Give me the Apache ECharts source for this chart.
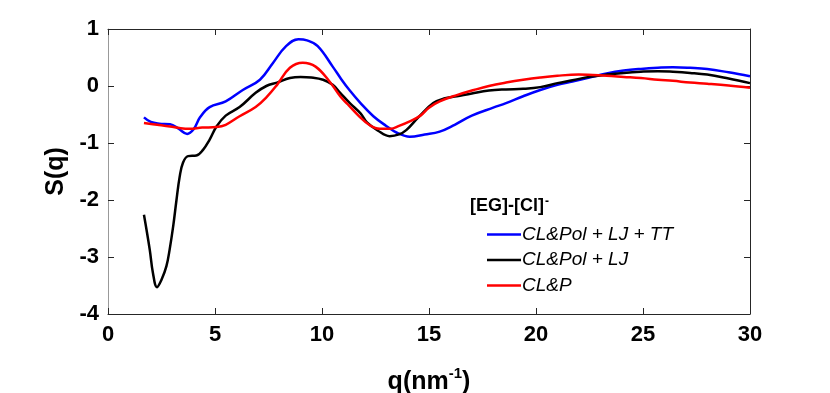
<!DOCTYPE html>
<html>
<head>
    <meta charset="UTF-8">
    <title>S(q)</title>
    <script src="https://cdn.jsdelivr.net/npm/echarts@6.0.0/dist/echarts.min.js"></script>
    <style>
        html, body { margin: 0; padding: 0; background: #fff; }
        #chart { width: 830px; height: 393px; }
    </style>
</head>
<body>
    <div id="chart"></div>
    <script>
        // 数据 [q, S(q)]
        var blueData = [[1.68,-0.55],[2.0,-0.63],[2.4,-0.66],[2.9,-0.67],[3.3,-0.75],[3.7,-0.84],[4.0,-0.76],[4.3,-0.55],[4.75,-0.37],[5.5,-0.27],[6.3,-0.07],[7.1,0.11],[7.7,0.40],[8.3,0.69],[8.9,0.82],[9.3,0.80],[9.8,0.70],[10.5,0.34],[10.9,0.12],[11.3,-0.08],[11.8,-0.30],[12.4,-0.53],[13.0,-0.70],[13.5,-0.82],[14.1,-0.89],[14.8,-0.85],[15.5,-0.80],[16.2,-0.68],[17.0,-0.52],[18.0,-0.38],[18.6,-0.30],[19.4,-0.18],[20.2,-0.07],[21.0,0.02],[21.7,0.08],[22.5,0.15],[23.3,0.22],[24.1,0.27],[24.9,0.30],[25.7,0.32],[26.4,0.33],[27.2,0.32],[28.0,0.30],[29.0,0.24],[30.0,0.17]];
        var blackData = [[1.68,-2.26],[1.95,-2.87],[2.1,-3.28],[2.29,-3.53],[2.5,-3.4],[2.73,-3.16],[2.88,-2.87],[3.05,-2.45],[3.2,-2.0],[3.35,-1.59],[3.5,-1.35],[3.74,-1.23],[4.13,-1.22],[4.44,-1.12],[4.75,-0.94],[5.07,-0.71],[5.5,-0.52],[6.15,-0.37],[6.9,-0.12],[7.4,0.0],[7.9,0.06],[8.5,0.14],[9.0,0.16],[9.5,0.15],[10.05,0.11],[10.5,0.02],[10.85,-0.12],[11.3,-0.3],[11.8,-0.48],[12.1,-0.64],[12.6,-0.78],[13.16,-0.88],[13.6,-0.85],[13.95,-0.77],[14.5,-0.55],[15.2,-0.30],[15.7,-0.22],[16.3,-0.18],[17.0,-0.13],[17.8,-0.08],[18.6,-0.06],[19.4,-0.05],[20.2,-0.02],[21.0,0.05],[21.7,0.1],[22.5,0.16],[23.3,0.2],[24.1,0.23],[24.9,0.25],[25.7,0.26],[26.4,0.25],[27.2,0.23],[28.0,0.2],[29.0,0.13],[30.0,0.05]];
        var redData = [[1.68,-0.65],[2.3,-0.68],[2.9,-0.71],[3.4,-0.74],[3.8,-0.75],[4.4,-0.73],[5.07,-0.72],[5.5,-0.68],[6.15,-0.53],[6.9,-0.37],[7.4,-0.2],[7.9,0.02],[8.5,0.32],[9.1,0.41],[9.7,0.34],[10.35,0.08],[10.85,-0.18],[11.2,-0.32],[11.76,-0.54],[12.2,-0.68],[12.7,-0.75],[13.2,-0.75],[13.6,-0.70],[14.1,-0.62],[14.6,-0.52],[15.0,-0.38],[15.5,-0.27],[16.3,-0.16],[17.1,-0.07],[17.8,0.0],[18.6,0.06],[19.4,0.11],[20.2,0.15],[21.0,0.18],[22.0,0.2],[23.3,0.18],[24.1,0.16],[24.9,0.14],[25.7,0.11],[26.4,0.09],[27.2,0.06],[28.0,0.04],[29.0,0.01],[30.0,-0.03]];
        var seriesNames = ['CL&Pol + LJ + TT', 'CL&Pol + LJ', 'CL&P'];
        var seriesColors = ['#0000ff', '#000000', '#ff0000'];

        var font = "'Liberation Sans', Arial, sans-serif";
        var chart = echarts.init(document.getElementById('chart'));

        function line(name, color, data) {
            return {
                name: name, type: 'line', data: data, smooth: 0.4,
                symbol: 'none', lineStyle: { color: color, width: 2.5 }, itemStyle: { color: color }
            };
        }

        var axisLabel = { fontFamily: font, fontWeight: 'bold', fontSize: 22, color: '#000' };
        var tick = { show: true, inside: true, length: 6, lineStyle: { color: '#262626' } };

        chart.setOption({
            animation: false,
            grid: { left: 108, top: 29, width: 642, height: 285, outerBoundsMode: 'none', containLabel: false },
            xAxis: [{
                type: 'value', min: 0, max: 30, interval: 5,
                axisLine: { onZero: false, lineStyle: { color: '#262626', width: 1 } },
                axisTick: tick,
                splitLine: { show: false },
                axisLabel: Object.assign({ margin: 10 }, axisLabel),
                name: '{a|q(nm}{s|-1}{a|)}', nameLocation: 'middle', nameGap: 46,
                nameTextStyle: {
                    rich: {
                        a: { fontFamily: font, fontWeight: 'bold', fontSize: 25, color: '#000', height: 28 },
                        s: { fontFamily: font, fontWeight: 'bold', fontSize: 15, color: '#000', height: 28, verticalAlign: 'top', padding: [0, 0, 16, 0] }
                    }
                }
            }, {
                type: 'value', min: 0, max: 30, interval: 5, position: 'top',
                axisLine: { show: true, onZero: false, lineStyle: { color: '#262626', width: 1 } },
                axisTick: tick,
                axisLabel: { show: false }, splitLine: { show: false }
            }],
            yAxis: [{
                type: 'value', min: -4, max: 1, interval: 1,
                axisLine: { show: true, onZero: false, lineStyle: { color: '#999', width: 1 } },
                axisTick: tick,
                splitLine: { show: false },
                axisLabel: Object.assign({ margin: 9 }, axisLabel),
                name: 'S(q)', nameLocation: 'middle', nameGap: 27, nameRotate: 90,
                nameTextStyle: { fontFamily: font, fontWeight: 'bold', fontSize: 25, color: '#000' }
            }, {
                type: 'value', min: -4, max: 1, interval: 1, position: 'right',
                axisLine: { show: true, onZero: false, lineStyle: { color: '#262626', width: 1 } },
                axisTick: tick,
                axisLabel: { show: false }, splitLine: { show: false }
            }],
            legend: {
                data: seriesNames, orient: 'vertical', left: 482, top: 220,
                icon: 'rect', itemWidth: 34, itemHeight: 2.5, itemGap: 6.5,
                textStyle: { fontFamily: font, fontStyle: 'italic', fontSize: 19, color: '#000', padding: [0, 0, 0, -4] }
            },
            graphic: [{
                type: 'text', left: 470, top: 196,
                style: {
                    text: '{a|[EG]-[Cl]}{s|-}',
                    rich: {
                        a: { fontFamily: font, fontWeight: 'bold', fontSize: 18, fill: '#000' },
                        s: { fontFamily: font, fontWeight: 'bold', fontSize: 12, fill: '#000', verticalAlign: 'top', padding: [0, 0, 8, 1] }
                    }
                }
            }],
            series: [
                line(seriesNames[0], seriesColors[0], blueData),
                line(seriesNames[1], seriesColors[1], blackData),
                line(seriesNames[2], seriesColors[2], redData)
            ]
        });
    </script>
</body>
</html>
